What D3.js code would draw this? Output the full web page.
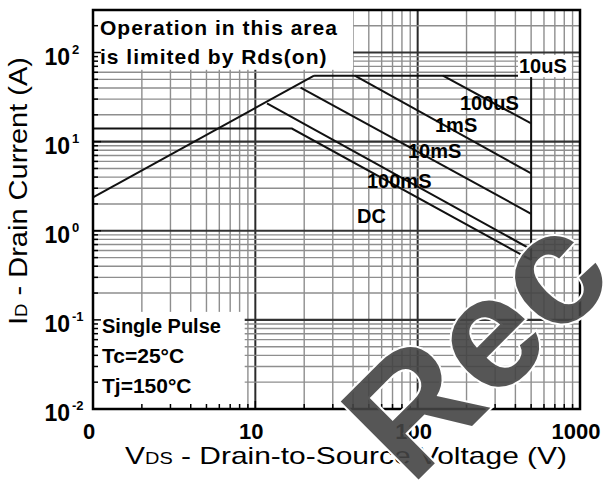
<!DOCTYPE html>
<html>
<head>
<meta charset="utf-8">
<script src="https://cdn.jsdelivr.net/npm/d3@7"></script>
<style>
body { margin: 0; background: #fff; }
svg { display: block; font-family: Arial, "Liberation Sans", sans-serif; }
</style>
</head>
<body>
<div id="chart1"></div>
<script>
// safe operating area, points are [VDS (V), ID (A)]
var rdsLimit = [[1, 2.37], [23, 55]];
var curve10us = [[23, 55], [500, 55], [500, 0.47]];
var curve100us = [[143, 55], [500, 16]];
var curve1ms = [[41, 55], [500, 4.4]];
var curve10ms = [[19, 40.5], [500, 1.55]];
var curve100ms = [[11.8, 26.8], [500, 0.62]];
var curveDC = [[1, 14], [16.8, 14], [500, 0.47]];

var curveLabels = ["10uS", "100uS", "1mS", "10mS", "100mS", "DC"];
var curveLabelPos = [[519, 73], [460, 110], [435, 132], [408, 158], [367, 188], [357, 223]];

var xTickVals = [1, 10, 100, 1000];
var xTickLabels = ["0", "10", "100", "1000"];
var yTickVals = [100, 10, 1, 0.1, 0.01];
var yTickExps = ["2", "1", "0", "-1", "-2"];

var width = 603, height = 486;
var margin = { top: 10, right: 23, bottom: 77, left: 93 };

var x = d3.scaleLog().domain([1, 1000]).range([margin.left, width - margin.right]);
var y = d3.scaleLog().domain([0.01, 300]).range([height - margin.bottom, margin.top]);

var svg = d3.select("#chart1").append("svg")
    .attr("width", width)
    .attr("height", height);

svg.append("rect").attr("width", width).attr("height", height).attr("fill", "#fff");

function isMajor(v) {
    var l = Math.log10(v);
    return Math.abs(l - Math.round(l)) < 1e-6;
}

// grid
var grid = svg.append("g");
grid.selectAll(".vgrid")
    .data(x.ticks())
    .enter().append("line")
    .attr("x1", d => x(d)).attr("x2", d => x(d))
    .attr("y1", y.range()[0]).attr("y2", y.range()[1])
    .attr("stroke", d => isMajor(d) ? "#2a2a2a" : "#8e8e8e")
    .attr("stroke-width", d => isMajor(d) ? 2 : 1.4);

grid.selectAll(".hgrid")
    .data(y.ticks())
    .enter().append("line")
    .attr("y1", d => y(d)).attr("y2", d => y(d))
    .attr("x1", x.range()[0]).attr("x2", x.range()[1])
    .attr("stroke", d => isMajor(d) ? "#333" : "#8e8e8e")
    .attr("stroke-width", d => isMajor(d) ? 2.2 : 1.4);

// curves
var line = d3.line().x(d => x(d[0])).y(d => y(d[1]));
var curves = [rdsLimit, curve10us, curve100us, curve1ms, curve10ms, curve100ms, curveDC];
svg.append("g").selectAll("path")
    .data(curves)
    .enter().append("path")
    .attr("d", line)
    .attr("fill", "none")
    .attr("stroke", "#111")
    .attr("stroke-width", 2);

// white boxes behind notes
function box(v0, v1, i0, i1) {
    svg.append("rect")
        .attr("x", x(v0)).attr("y", y(i1))
        .attr("width", x(v1) - x(v0)).attr("height", y(i0) - y(i1))
        .attr("fill", "#fff");
}
box(1, 40, 64, 300);
box(415, 890, 53, 94);
box(1, 8.6, 0.01, 0.123);

var notes = svg.append("g").attr("font-weight", "bold").attr("fill", "#000");

notes.append("text").attr("x", 100).attr("y", 35)
    .attr("font-size", 21).attr("letter-spacing", 1)
    .text("Operation in this area");
notes.append("text").attr("x", 100).attr("y", 64)
    .attr("font-size", 21).attr("letter-spacing", 1)
    .text("is limited by Rds(on)");

notes.selectAll(".clabel")
    .data(curveLabels)
    .enter().append("text")
    .attr("x", (d, i) => curveLabelPos[i][0])
    .attr("y", (d, i) => curveLabelPos[i][1])
    .attr("font-size", 20)
    .text(d => d);

notes.append("text").attr("x", 102).attr("y", 333).attr("font-size", 20).text("Single Pulse");
notes.append("text").attr("x", 102).attr("y", 363).attr("font-size", 21).text("Tc=25°C");
notes.append("text").attr("x", 102).attr("y", 393).attr("font-size", 21).text("Tj=150°C");

// inward ticks
var ticks = svg.append("g").attr("stroke", "#000").attr("stroke-width", 1.5);
ticks.selectAll(".ytick")
    .data(y.ticks())
    .enter().append("line")
    .attr("x1", x.range()[0]).attr("x2", d => x.range()[0] + (isMajor(d) ? 8 : 5))
    .attr("y1", d => y(d)).attr("y2", d => y(d));
ticks.selectAll(".xtick")
    .data(x.ticks())
    .enter().append("line")
    .attr("y1", y.range()[0]).attr("y2", d => y.range()[0] - (isMajor(d) ? 8 : 5))
    .attr("x1", d => x(d)).attr("x2", d => x(d));

// frame
svg.append("rect")
    .attr("x", x.range()[0]).attr("y", y.range()[1])
    .attr("width", x.range()[1] - x.range()[0])
    .attr("height", y.range()[0] - y.range()[1])
    .attr("fill", "none").attr("stroke", "#000").attr("stroke-width", 2.5);

// tick labels
svg.selectAll(".xlab")
    .data(xTickVals)
    .enter().append("text")
    .attr("x", d => x(d) - 4).attr("y", 439)
    .attr("text-anchor", "middle")
    .attr("font-size", 22).attr("font-weight", "bold")
    .text((d, i) => xTickLabels[i]);

var ylab = svg.selectAll(".ylab")
    .data(yTickVals)
    .enter().append("g");
ylab.append("text")
    .attr("x", 70).attr("y", d => y(d) + 12)
    .attr("text-anchor", "end")
    .attr("font-size", 23).attr("font-weight", "bold")
    .text("10");
ylab.append("text")
    .attr("x", 72).attr("y", d => y(d) + 1)
    .attr("font-size", 13).attr("font-weight", "bold")
    .text((d, i) => yTickExps[i]);

// axis titles
var xt = svg.append("text")
    .attr("x", 125).attr("y", 464)
    .attr("font-size", 24)
    .attr("textLength", 442).attr("lengthAdjust", "spacingAndGlyphs");
xt.append("tspan").text("V");
xt.append("tspan").attr("font-size", 16).text("DS");
xt.append("tspan").text(" - Drain-to-Source Voltage (V)");

var yt = svg.append("text")
    .attr("transform", "translate(27,191) rotate(-90)")
    .attr("text-anchor", "middle")
    .attr("font-size", 25)
    .attr("textLength", 268).attr("lengthAdjust", "spacingAndGlyphs");
yt.append("tspan").text("I");
yt.append("tspan").attr("font-size", 16).text("D");
yt.append("tspan").text(" - Drain Current (A)");

// watermark
svg.append("text")
    .attr("transform", "translate(411,487) rotate(-45)")
    .attr("font-size", 160).attr("font-weight", "bold")
    .attr("fill", "#444").attr("fill-opacity", 0.9)
    .attr("stroke", "#fff").attr("stroke-width", 4)
    .attr("paint-order", "stroke")
    .text("Rec");
</script>
</body>
</html>
